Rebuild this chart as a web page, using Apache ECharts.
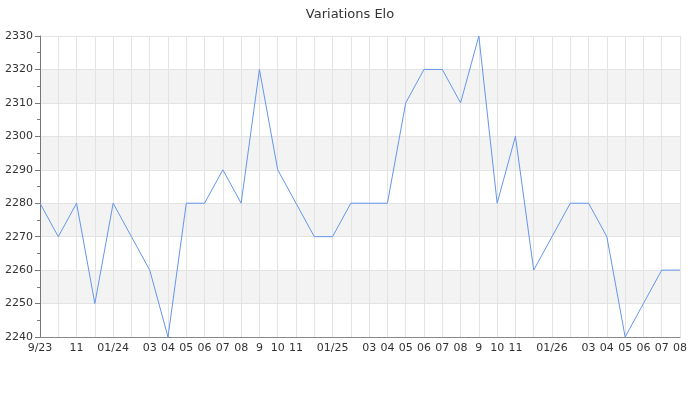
<!DOCTYPE html>
<html>
<head>
<meta charset="utf-8">
<script src="https://cdn.jsdelivr.net/npm/echarts@6/dist/echarts.min.js"></script>
<style>
  html, body { margin: 0; padding: 0; background: #fff; }
  #main { width: 700px; height: 400px; }
</style>
</head>
<body>
<div id="main"></div>
<script>
// mois, de 9/23 à 08/26
const months = [
  "9/23", "10", "11", "12", "01/24", "02", "03", "04", "05", "06", "07", "08",
  "9", "10", "11", "12", "01/25", "02", "03", "04", "05", "06", "07", "08",
  "9", "10", "11", "12", "01/26", "02", "03", "04", "05", "06", "07", "08"
];
// labels non affichés
const hiddenIdx = [1, 3, 5, 15, 17, 27, 29];

const elo = [
  2280, 2270, 2280, 2250, 2280, 2270, 2260, 2240, 2280, 2280, 2290, 2280,
  2320, 2290, 2280, 2270, 2270, 2280, 2280, 2280, 2310, 2320, 2320, 2310,
  2330, 2280, 2300, 2260, 2270, 2280, 2280, 2270, 2240, 2250, 2260, 2260
];

const yMin = 2240, yMax = 2330, yStep = 10;

const font = "DejaVu Sans";
let chart = echarts.init(document.getElementById("main"));
let option = {
  animation: false,
  title: {
    text: "Variations Elo",
    left: "center",
    top: 3,
    textStyle: { fontFamily: font, fontSize: 13, fontWeight: "normal", color: "#333" },
  },
  grid: { left: 40, right: 20, top: 36, bottom: 63 },
  xAxis: {
    type: "category",
    data: months,
    boundaryGap: false,
    axisLine: { lineStyle: { color: "#888" } },
    axisTick: { show: false },
    axisLabel: {
      interval: (i) => hiddenIdx.indexOf(i) < 0,
      fontFamily: font,
      fontSize: 11,
      color: "#333",
      margin: 6,
    },
    splitLine: { show: true, interval: 0, lineStyle: { color: "#e3e3e3" } },
  },
  yAxis: {
    type: "value",
    min: yMin,
    max: yMax,
    interval: yStep,
    axisLine: { show: true, lineStyle: { color: "#777" } },
    axisTick: { show: true, length: 5, inside: false, lineStyle: { color: "#777" } },
    minorTick: { show: true, splitNumber: 2, length: 3, lineStyle: { color: "#777" } },
    axisLabel: {
      fontFamily: font,
      fontSize: 11,
      color: "#333",
      margin: 7,
      formatter: (v) => String(v),
    },
    splitLine: { show: true, lineStyle: { color: "#e3e3e3" } },
    splitArea: { show: true, areaStyle: { color: ["#ffffff", "#f3f3f3"] } },
  },
  series: [
    {
      type: "line",
      data: elo,
      symbol: "none",
      lineStyle: { color: "#6495ed", width: 1 },
    },
  ],
};
chart.setOption(option);
</script>
</body>
</html>
